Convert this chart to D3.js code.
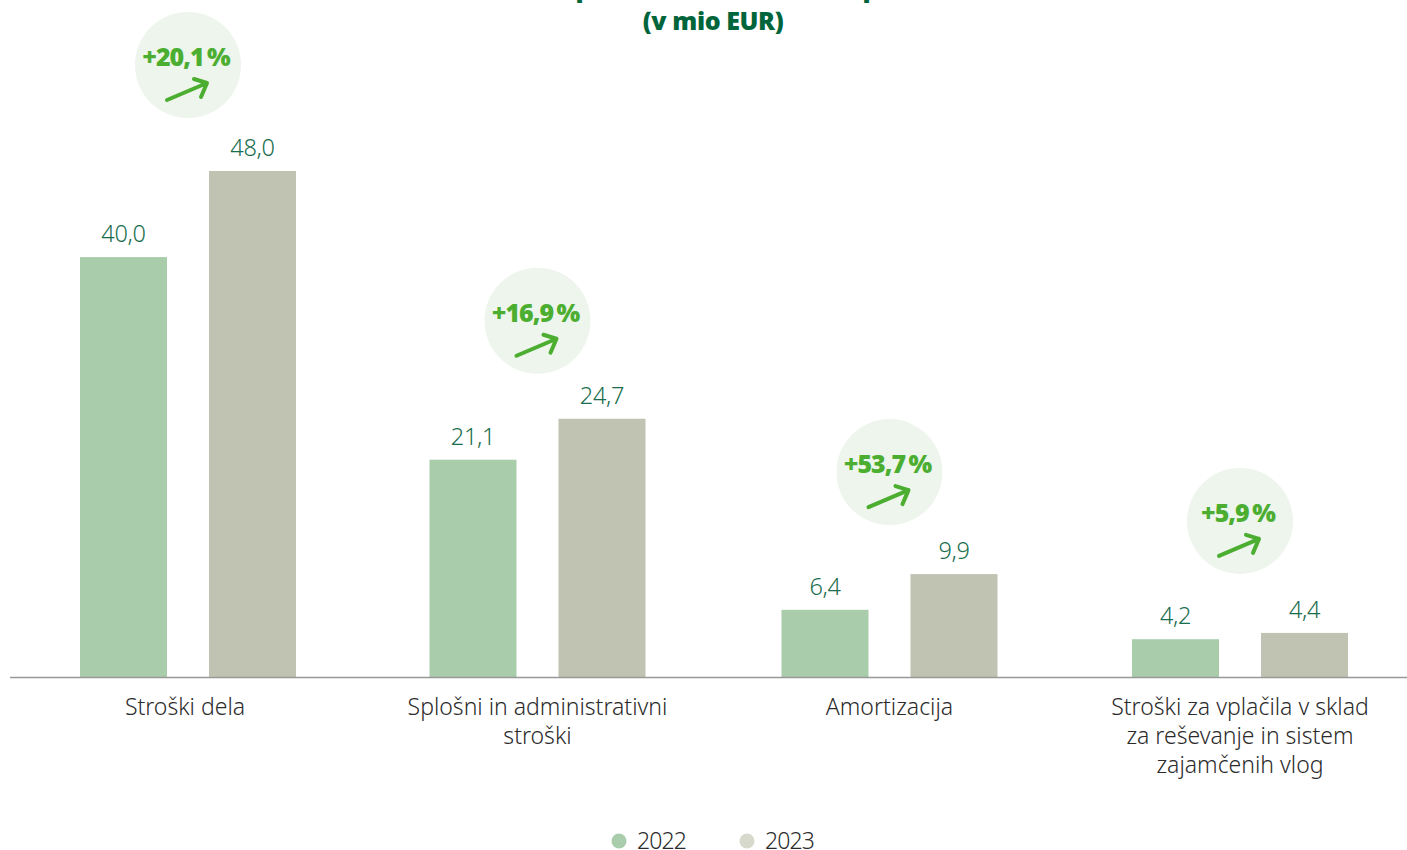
<!DOCTYPE html>
<html>
<head>
<meta charset="utf-8">
<script src="https://cdn.jsdelivr.net/npm/d3@7"></script>
<style>
  html, body { margin: 0; padding: 0; background: #fff; overflow: hidden; }
  svg { display: block; }
  text { font-family: "Noto Sans", sans-serif; }
</style>
</head>
<body>
<svg></svg>
<script>
const width = 1407;
const height = 850;

// data
const categories = [
  ["Stroški dela"],
  ["Splošni in administrativni", "stroški"],
  ["Amortizacija"],
  ["Stroški za vplačila v sklad", "za reševanje in sistem", "zajamčenih vlog"]
];
const seriesNames = ["2022", "2023"];
// bar heights (the printed labels are not quite to scale)
const bars2022 = [40.0, 20.7, 6.4, 3.6];
const bars2023 = [48.2, 24.6, 9.8, 4.2];
const labels2022 = ["40,0", "21,1", "6,4", "4,2"];
const labels2023 = ["48,0", "24,7", "9,9", "4,4"];
const changes = ["+20,1 %", "+16,9 %", "+53,7 %", "+5,9 %"];

// layout: the groups are not evenly spaced in the original
const groupCenters = [188, 537.5, 889.5, 1240];
const badgeLift = [106, 98, 102, 112];

const colors = ["#a9ccab", "#c0c3b1"];
const legendColors = ["#a9ccab", "#d6d9cc"];
const green = "#4cae31";
const darkGreen = "#00653a";

const svg = d3.select("svg")
  .attr("width", width)
  .attr("height", height);

// scales
const x = d3.scaleOrdinal()
  .domain(d3.range(categories.length))
  .range(groupCenters);

const xInner = d3.scaleBand()
  .domain(seriesNames)
  .range([-108, 108])
  .paddingInner(42 / 129);

const y = d3.scaleLinear()
  .domain([0, 48.2])
  .range([677, 171]);

// title: the first line is cut by the top edge, only the descenders show
const title = svg.append("g")
  .attr("fill", darkGreen)
  .attr("font-weight", 900)
  .attr("font-size", 25);

title.selectAll("text.cut")
  .data([575.5, 862.5])
  .join("text")
  .attr("class", "cut")
  .attr("x", d => d)
  .attr("y", -3)
  .text("p");

title.append("text")
  .attr("x", 713)
  .attr("y", 30)
  .attr("text-anchor", "middle")
  .attr("letter-spacing", -0.4)
  .text("(v mio EUR)");

// bars
seriesNames.forEach((name, s) => {
  const values = s === 0 ? bars2022 : bars2023;
  const labels = s === 0 ? labels2022 : labels2023;

  svg.append("g").selectAll("rect")
    .data(values)
    .join("rect")
    .attr("x", (d, i) => x(i) + xInner(name))
    .attr("y", d => y(d))
    .attr("width", xInner.bandwidth())
    .attr("height", d => y(0) - y(d))
    .attr("fill", colors[s]);

  svg.append("g").selectAll("text")
    .data(values)
    .join("text")
    .attr("x", (d, i) => x(i) + xInner(name) + xInner.bandwidth() / 2)
    .attr("y", d => y(d) - 15)
    .attr("text-anchor", "middle")
    .attr("font-size", 23.5)
    .attr("font-weight", 300)
    .attr("letter-spacing", -0.3)
    .attr("fill", "#1a6e4e")
    .text((d, i) => labels[i]);
});

// axis line
svg.append("line")
  .attr("x1", 10)
  .attr("x2", width)
  .attr("y1", 677.5)
  .attr("y2", 677.5)
  .attr("stroke", "#999")
  .attr("stroke-width", 1.5);

// category labels
const catLabels = svg.append("g").selectAll("text")
  .data(categories)
  .join("text")
  .attr("text-anchor", "middle")
  .attr("font-size", 23)
  .attr("font-weight", 300)
  .attr("fill", "#2b2b2b");

catLabels.selectAll("tspan")
  .data((d, i) => d.map(line => ({ line, i })))
  .join("tspan")
  .attr("x", d => x(d.i) - (d.i === 0 ? 3 : 0))
  .attr("y", (d, j) => 715 + j * 29)
  .text(d => d.line);

// change badges
const badges = svg.append("g").selectAll("g")
  .data(changes)
  .join("g")
  .attr("transform", (d, i) => `translate(${x(i)},${y(bars2023[i]) - badgeLift[i]})`);

badges.append("circle")
  .attr("r", 53)
  .attr("fill", "#edf5ec");

badges.append("text")
  .attr("x", -2)
  .attr("y", 1)
  .attr("text-anchor", "middle")
  .attr("font-size", 25)
  .attr("font-weight", 900)
  .attr("letter-spacing", -1)
  .attr("word-spacing", -2)
  .attr("fill", green)
  .text(d => d);

badges.append("path")
  .attr("d", "M-21,35L19,18M6,14L19,18L13,32")
  .attr("fill", "none")
  .attr("stroke", green)
  .attr("stroke-width", 4)
  .attr("stroke-linecap", "round")
  .attr("stroke-linejoin", "round");

// legend
const legendX = d3.scalePoint()
  .domain(seriesNames)
  .range([619, 747]);

const legend = svg.append("g").selectAll("g")
  .data(seriesNames)
  .join("g")
  .attr("transform", d => `translate(${legendX(d)},841)`);

legend.append("circle")
  .attr("r", 7.5)
  .attr("fill", (d, i) => legendColors[i]);

legend.append("text")
  .attr("x", 18)
  .attr("y", 8)
  .attr("font-size", 23)
  .attr("font-weight", 300)
  .attr("letter-spacing", -0.9)
  .attr("fill", "#2b2b2b")
  .text(d => d);
</script>
</body>
</html>
